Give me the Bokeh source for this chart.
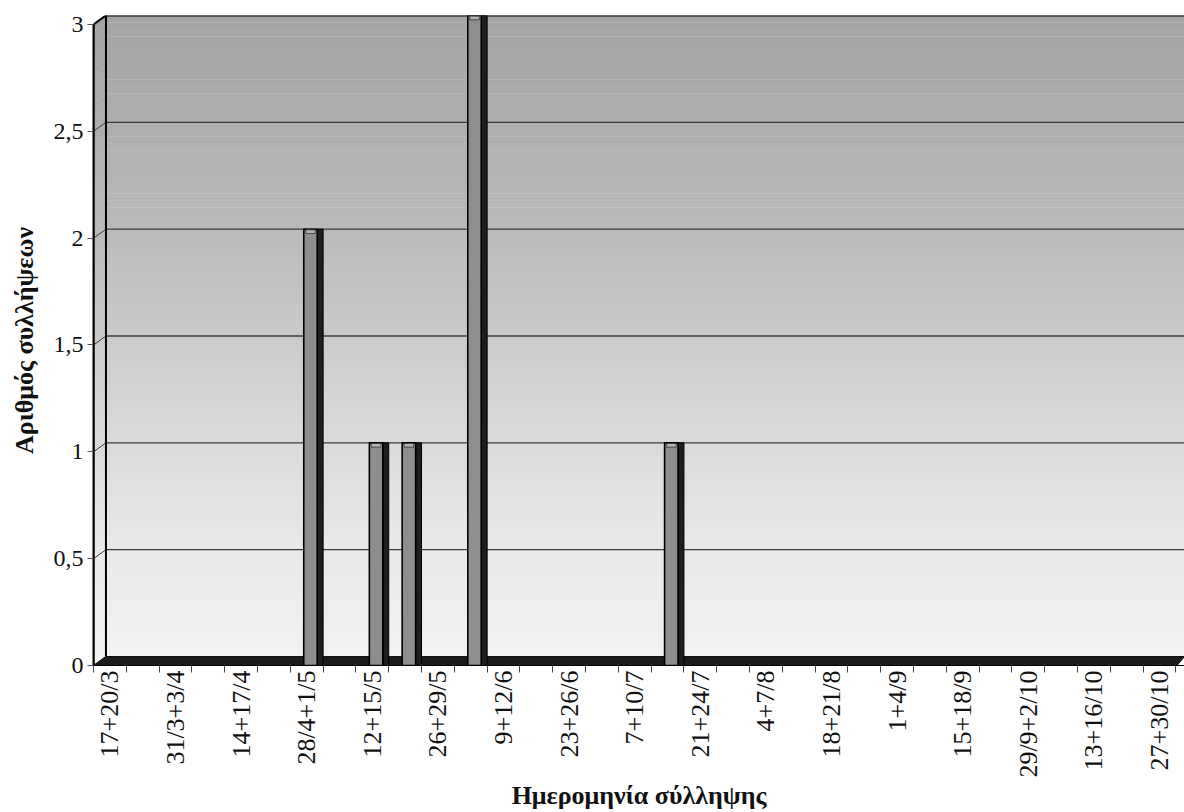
import math
import numpy as np
from bokeh.plotting import figure
from bokeh.models import Range1d, LinearAxis, FixedTicker
from bokeh.embed import file_html
from bokeh.resources import INLINE

# Collection dates (two sampling days per week) and number of captures
weeks = [
    "17+20/3", "24+27/3", "31/3+3/4", "7+10/4", "14+17/4", "21+24/4",
    "28/4+1/5", "5+8/5", "12+15/5", "19+22/5", "26+29/5", "2+5/6",
    "9+12/6", "16+19/6", "23+26/6", "30/6+3/7", "7+10/7", "14+17/7",
    "21+24/7", "28+31/7", "4+7/8", "11+14/8", "18+21/8", "25+28/8",
    "1+4/9", "8+11/9", "15+18/9", "22+25/9", "29/9+2/10", "6+9/10",
    "13+16/10", "20+23/10", "27+30/10",
]
captures = [
    0, 0, 0, 0, 0, 0,
    2, 0, 1, 1, 0, 3,
    0, 0, 0, 0, 0, 1,
    0, 0, 0, 0, 0, 0,
    0, 0, 0, 0, 0, 0,
    0, 0, 0,
]
y_ticks = [0, 0.5, 1, 1.5, 2, 2.5, 3]
y_tick_labels = ["0", "0,5", "1", "1,5", "2", "2,5", "3"]

n = len(weeks)
SERIF = "Liberation Serif"
DX = 0.38      # horizontal depth of the pseudo 3-D walls (category units)
DY = 0.042     # vertical depth (count units)
X_END = 33.26
Y_TOP = y_ticks[-1]

p = figure(
    width=1184, height=812,
    x_range=Range1d(0, X_END), y_range=Range1d(-DY, Y_TOP),
    x_axis_type=None, y_axis_type=None,
    output_backend="svg", toolbar_location=None,
    min_border_left=93, min_border_right=0, min_border_top=15, min_border_bottom=146,
    background_fill_color="white", border_fill_color="white",
)
p.outline_line_color = None
p.xgrid.visible = False
p.ygrid.visible = False
p.extra_y_ranges = {"front": Range1d(0, Y_TOP + DY)}

# ---- back wall with vertical grey gradient --------------------------------
stops_y = [0.0, 0.5, 1.0, 1.5, 2.0, 2.5, 3.0]
stops_v = [242, 233, 219, 202, 186, 174, 164]
edges = np.linspace(0, Y_TOP, 91)
mids = (edges[:-1] + edges[1:]) / 2
greys = np.interp(mids, stops_y, stops_v).round().astype(int)
cols = ["#%02x%02x%02x" % (g, g, g) for g in greys]
p.quad(left=DX, right=X_END, bottom=edges[:-1], top=edges[1:] + 0.002,
       fill_color=cols, line_color=None)

# left side wall, same gradient, slanted toward the viewer
wall_xs = [[0, DX, DX, 0] for _ in mids]
wall_ys = [[b - DY, b, t + 0.002, t + 0.002 - DY] for b, t in zip(edges[:-1], edges[1:])]
p.patches(wall_xs, wall_ys, fill_color=[c for c in cols], line_color=None)

# horizontal gridlines on the back wall and their diagonals on the side wall
grid_vals = [v for v in y_ticks if 0 < v < Y_TOP]
p.segment(x0=DX, y0=grid_vals, x1=X_END, y1=grid_vals, line_color="#3c3c3c", line_width=1.3)
p.segment(x0=0, y0=[v - DY for v in y_ticks], x1=DX, y1=y_ticks, line_color="#3c3c3c", line_width=1.0)

# top border of the back wall
p.segment(x0=[DX, 0], y0=[Y_TOP, Y_TOP - DY], x1=[X_END, DX], y1=[Y_TOP, Y_TOP],
          line_color="black", line_width=2)

# floor
p.patch([0, X_END - DX * 0.6, X_END, DX], [-DY, -DY, 0, 0],
        fill_color="#1c1c1c", line_color="#111111", line_width=1)

# ---- bars ----------------------------------------------------------------
idx = [i for i, v in enumerate(captures) if v > 0]
vals = [captures[i] for i in idx]
p.quad(left=[i + 0.82 for i in idx], right=[i + 1.0 for i in idx],
       bottom=-DY, top=vals, fill_color="#1e1e1e", line_color="black", line_width=1)
p.quad(left=[i + 0.41 for i in idx], right=[i + 0.82 for i in idx],
       bottom=-DY, top=vals, fill_color="#8e8e8e", line_color="black", line_width=1.6)
p.quad(left=[i + 0.47 for i in idx], right=[i + 0.76 for i in idx],
       bottom=[v - 0.02 for v in vals], top=[v - 0.003 for v in vals],
       fill_color="#b4b4b4", line_color="#333333", line_width=0.8)

# side wall edges
p.segment(x0=[0, DX], y0=[-DY, 0], x1=[0, DX], y1=[Y_TOP - DY, Y_TOP],
          line_color="black", line_width=2)

# ---- axes ----------------------------------------------------------------
yaxis = LinearAxis(
    y_range_name="front",
    ticker=FixedTicker(ticks=y_ticks),
    major_label_overrides={t: s for t, s in zip(y_ticks, y_tick_labels)},
    bounds=(0, Y_TOP),
    axis_label="Αριθμός συλλήψεων",
)
yaxis.axis_line_color = "black"
yaxis.axis_line_width = 2
yaxis.major_tick_out = 6
yaxis.major_tick_in = 0
yaxis.minor_tick_out = 0
yaxis.minor_tick_in = 0
yaxis.major_tick_line_color = "#555555"
yaxis.major_label_standoff = 4
yaxis.major_label_text_font = SERIF
yaxis.major_label_text_font_size = "24px"
yaxis.major_label_text_color = "#111111"
yaxis.axis_label_text_font = SERIF
yaxis.axis_label_text_font_style = "bold"
yaxis.axis_label_text_font_size = "26px"
yaxis.axis_label_text_color = "#111111"
yaxis.axis_label_standoff = 12
p.add_layout(yaxis, "left")

label_pos = [i + 0.5 for i in range(0, n, 2)]
xaxis = LinearAxis(
    ticker=FixedTicker(ticks=label_pos, minor_ticks=list(range(n + 1))),
    major_label_overrides={pos: weeks[i] for pos, i in zip(label_pos, range(0, n, 2))},
    major_label_orientation=math.pi / 2,
    axis_label="Ημερομηνία σύλληψης",
)
xaxis.axis_line_color = "black"
xaxis.axis_line_width = 1
xaxis.major_tick_out = 0
xaxis.major_tick_in = 0
xaxis.minor_tick_out = 7
xaxis.minor_tick_in = 0
xaxis.minor_tick_line_color = "#444444"
xaxis.major_label_standoff = -2
xaxis.major_label_text_font = SERIF
xaxis.major_label_text_font_size = "26px"
xaxis.major_label_text_color = "#111111"
xaxis.axis_label_text_font = SERIF
xaxis.axis_label_text_font_style = "bold"
xaxis.axis_label_text_font_size = "26px"
xaxis.axis_label_text_color = "#111111"
xaxis.axis_label_standoff = 0
p.add_layout(xaxis, "below")

open("out.html", "w").write(file_html(p, INLINE))
